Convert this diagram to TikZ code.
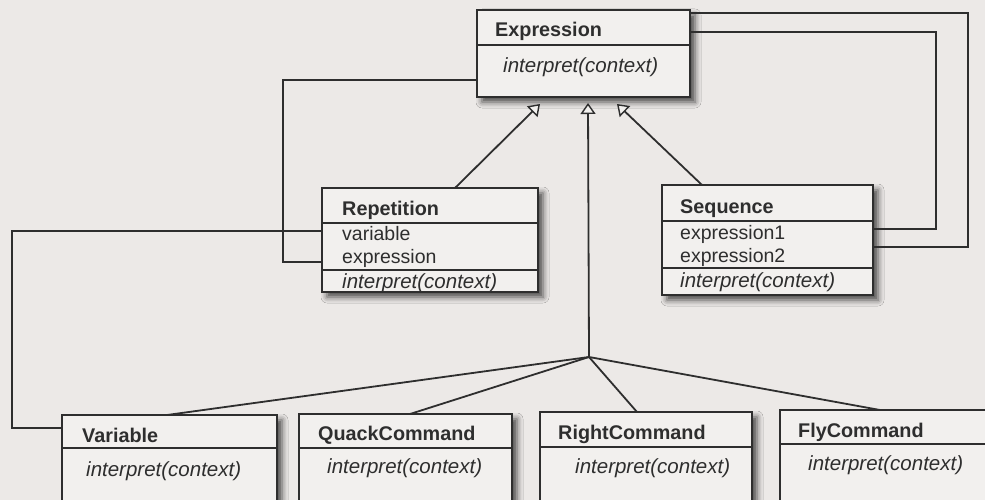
\documentclass[tikz,border=0pt]{standalone}
\usepackage{fontspec}
\setmainfont{Liberation Sans}
\usetikzlibrary{arrows.meta,shadows.blur,calc}
\definecolor{PageBg}{HTML}{ECE9E7}
\definecolor{BoxBg} {HTML}{F2F0EE}
\definecolor{Ink}   {HTML}{2E2E2E}
\begin{document}
\begin{tikzpicture}[x=1pt,y=-1pt,
  cls/.style={draw=Ink,rectangle,line width=1.8pt,fill=BoxBg,anchor=north west,
    inner sep=0pt,outer sep=0pt,
    blur shadow={shadow xshift=5pt,shadow yshift=-5pt,shadow blur radius=6pt,shadow opacity=70}},
  nm/.style={anchor=base west,inner sep=0pt,text=Ink,font=\fontsize{19.8}{23}\selectfont\bfseries},
  attr/.style={anchor=base west,inner sep=0pt,text=Ink,font=\fontsize{19.5}{23}\selectfont},
  op/.style={anchor=base west,inner sep=0pt,text=Ink,font=\fontsize{20.5}{23}\selectfont\itshape},
  ln/.style={draw=Ink,line width=1.8pt},
  inh/.style={ln,-{Triangle[length=11pt,width=15pt,fill=BoxBg,line width=1.4pt]}}
]
\useasboundingbox (0,0) rectangle (985,500);
\clip (0,0) rectangle (985,500);
\fill[PageBg] (0,0) rectangle (985,500);

\coordinate (hub) at (589,357);
\coordinate (tipL) at (540,104);
\coordinate (tipM) at (588,103);
\coordinate (tipR) at (617,104);

% classes
\node[cls,minimum width=213pt,minimum height=87pt](expr) at (477,10){};
\node[cls,minimum width=216pt,minimum height=104pt](rep) at (322,188){};
\node[cls,minimum width=211pt,minimum height=110pt](seq) at (662,185){};
\node[cls,minimum width=215pt,minimum height=110pt](var) at (62,415){};
\node[cls,minimum width=213pt,minimum height=110pt](quack) at (299,414){};
\node[cls,minimum width=212pt,minimum height=110pt](right) at (540,412){};
\node[cls,minimum width=230pt,minimum height=110pt](fly) at (780,410){};

% compartments
\draw[ln]($(expr.north west)+(0,35)$)--($(expr.north east)+(0,35)$);
\draw[ln]($(rep.north west)+(0,35)$)--($(rep.north east)+(0,35)$);
\draw[ln]($(rep.north west)+(0,82)$)--($(rep.north east)+(0,82)$);
\draw[ln]($(seq.north west)+(0,36)$)--($(seq.north east)+(0,36)$);
\draw[ln]($(seq.north west)+(0,83)$)--($(seq.north east)+(0,83)$);
\draw[ln]($(var.north west)+(0,33)$)--($(var.north east)+(0,33)$);
\draw[ln]($(quack.north west)+(0,34)$)--($(quack.north east)+(0,34)$);
\draw[ln]($(right.north west)+(0,35)$)--($(right.north east)+(0,35)$);
\draw[ln]($(fly.north west)+(0,34)$)--($(fly.north east)+(0,34)$);

% texts
\node[nm](exprN) at (495,37){Expression};
\node[op](exprM) at (503,73){interpret(context)};
\node[nm](repN) at (342,215){Repetition};
\node[attr](repA) at (342,240){variable};
\node[attr](repB) at (342,263){expression};
\node[op](repM) at (342,288){interpret(context)};
\node[nm](seqN) at (680,213){Sequence};
\node[attr](seqA) at (680,239){expression1};
\node[attr](seqB) at (680,262){expression2};
\node[op](seqM) at (680,287){interpret(context)};
\node[nm](varN) at (82,442){Variable};
\node[op](varM) at (86,476){interpret(context)};
\node[nm](quackN) at (318,440){QuackCommand};
\node[op](quackM) at (327,473){interpret(context)};
\node[nm](rightN) at (558,439){RightCommand};
\node[op](rightM) at (575,473){interpret(context)};
\node[nm](flyN) at (798,437){FlyCommand};
\node[op](flyM) at (808,470){interpret(context)};

% inheritance
\draw[inh]($(rep.north west)+(133,0)$)--(tipL);
\draw[inh](hub)--(tipM);
\draw[inh]($(seq.north west)+(40,0)$)--(tipR);
\draw[ln](hub)--($(var.north west)+(105,0)$);
\draw[ln](hub)--($(quack.north west)+(111,0)$);
\draw[ln](hub)--($(right.north west)+(97,0)$);
\draw[ln](hub)--($(fly.north west)+(100,0)$);

% composition
\draw[ln]($(expr.north west)+(0,70)$) -| ($(rep.north west)+(-39,74)$) -- ($(rep.north west)+(0,74)$);
\draw[ln]($(rep.north west)+(0,43)$) -| ($(var.north west)+(-50,13)$) -- ($(var.north west)+(0,13)$);
\draw[ln]($(expr.north east)+(0,3)$) -| ($(seq.north east)+(95,62)$) -- ($(seq.north east)+(0,62)$);
\draw[ln]($(expr.north east)+(0,22)$) -| ($(seq.north east)+(63,44)$) -- ($(seq.north east)+(0,44)$);
\end{tikzpicture}
\end{document}
